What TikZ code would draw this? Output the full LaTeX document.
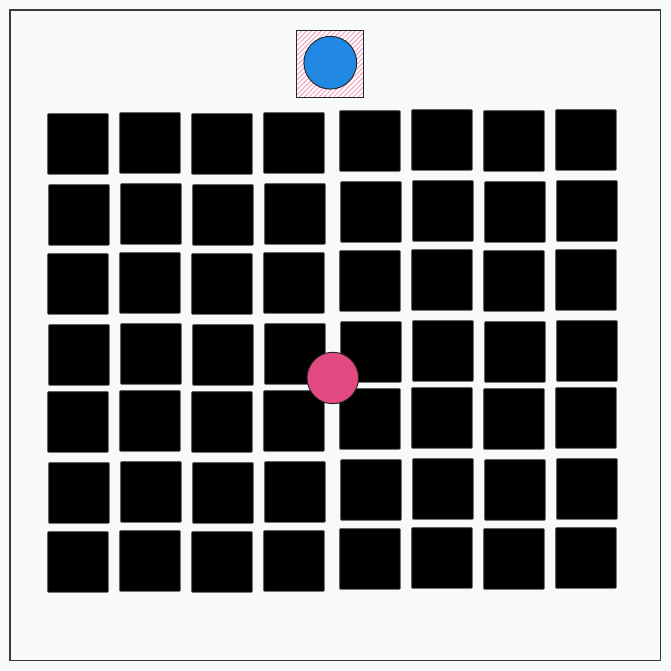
\documentclass[tikz,border=0pt]{standalone}
\usepackage{xcolor}
\usetikzlibrary{patterns.meta}
\definecolor{paper}{RGB}{248, 249, 251}
\definecolor{framegray}{RGB}{58, 58, 58}
\definecolor{tileedge}{RGB}{64, 64, 64}
\definecolor{startblue}{RGB}{33, 137, 228}
\definecolor{goalpink}{RGB}{228, 74, 130}
\definecolor{hatchpink}{RGB}{242, 160, 188}

\begin{document}
\begin{tikzpicture}[
    x=0.75pt, y=-0.75pt,
    tile/.style={rectangle, fill=black, draw=tileedge, line width=0.6pt,
                 rounded corners=0.6pt, minimum size=45.4pt, inner sep=0pt},
    startbox/.style={rectangle, draw=black!85, line width=1pt, minimum size=50.4pt,
                     inner sep=0pt, preaction={fill=white},
                     pattern={Lines[angle=45, distance=2.6pt, line width=0.75pt]},
                     pattern color=hatchpink},
    disc/.style={circle, fill=#1, draw=black!85, line width=0.7pt, inner sep=0pt},
    disc/.default=startblue
]

    % Canvas and frame
    \fill[paper] (0,0) rectangle (671,671);
    \useasboundingbox (0,0) rectangle (671,671);
    \draw[framegray, line width=1pt] (10,10) rectangle (660.5,660.5);

    % Tiles (8 x 7, slightly uneven)
    \foreach \ty [count=\r from 0] in {113.3,184.3,253.3,324.3,391.3,462.3,531.3} {
        \foreach \c in {0,...,7} {
            \pgfmathsetmacro\tx{47.3 + 72*\c + 4*(\c>3) + mod(\r,2) + 30.65}
            \pgfmathsetmacro\tyc{\ty - mod(\c,2) - 3*(\c>3) + 30.65}
            \node[tile] (tile-\r-\c) at (\tx, \tyc) {};
        }
    }

    % Start cell with blue disc
    \node[startbox] (start) at (330, 64) {};
    \node[disc=startblue, minimum size=39.6pt] (agent) at (330.3, 62.7) {};

    % Pink goal disc
    \node[disc=goalpink, minimum size=38.6pt] (goal) at (332.8, 378) {};

\end{tikzpicture}
\end{document}
